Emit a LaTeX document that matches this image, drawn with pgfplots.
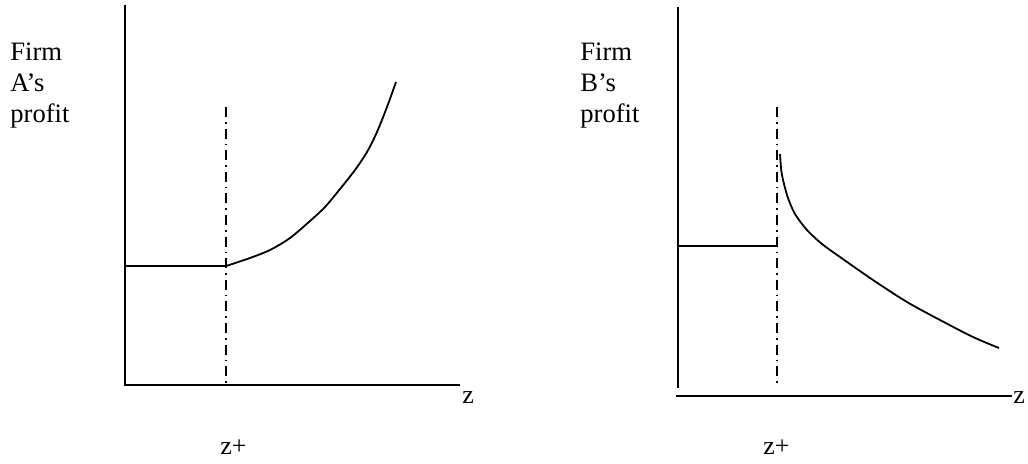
\documentclass[border=0pt]{standalone}
\usepackage{pgfplots}
\pgfplotsset{compat=1.18}
\usepackage{fontspec}
\setmainfont{Liberation Serif}
\begin{document}
\begin{tikzpicture}
\pgfplotsset{
  panel/.style={
    scale only axis, width=257pt, height=231.5pt,
    ymin=0, ymax=463, hide axis, clip=false,
    anchor=south west,
  },
}
\tikzset{
  ax/.style={black, line width=1pt},
  crv/.style={black, line width=0.9pt},
  dd/.style={black, line width=0.75pt, dash pattern=on 5pt off 2.5pt on 0.8pt off 2.5pt},
  lab/.style={font=\fontsize{13.3}{15}\selectfont, anchor=base west, inner sep=0pt},
  zlab/.style={font=\fontsize{13}{15}\selectfont, anchor=base west, inner sep=0pt},
}
% ---------- Firm A ----------
\begin{axis}[panel, at={(0pt,0pt)}, xmin=0, xmax=514]
\path (axis cs:0,0) rectangle (axis cs:514,463);
\addplot[ax, no marks] coordinates {(124.5,458) (124.5,78)};
\addplot[ax, no marks] coordinates {(124,78) (460,78)};
\addplot[dd, no marks] coordinates {(226,356) (226,78)};
\addplot[crv, no marks] coordinates {(124,197) (226,197)};
\addplot[crv, no marks, smooth, tension=0.5] coordinates {
 (226,197) (250,205) (270,213) (290,225) (310,242) (325,256)
 (340,274) (355,293) (367,311) (377,331) (387,356) (396,381)};
\node[lab] at (axis cs:10,403) {Firm};
\node[lab] at (axis cs:10,372) {A’s};
\node[lab] at (axis cs:10,341) {profit};
\node[zlab] at (axis cs:462,60) {z};
\node[zlab] at (axis cs:220,9) {z+};
\end{axis}
% ---------- Firm B ----------
\begin{axis}[panel, at={(257pt,0pt)}, xmin=514, xmax=1028]
\path (axis cs:514,0) rectangle (axis cs:1028,463);
\addplot[ax, no marks] coordinates {(678,456) (678,75)};
\addplot[ax, no marks] coordinates {(676,67) (1012,67)};
\addplot[dd, no marks] coordinates {(777,356) (777,77)};
\addplot[crv, no marks] coordinates {(678,217) (777,217) (777,223)};
\addplot[crv, no marks, smooth, tension=0.5] coordinates {
 (780,309) (781,295) (782,288) (784,279) (788,265) (795,249) (807,233)
 (822,219) (840,206) (873,183) (907,161) (940,143) (973,126) (999,115)};
\node[lab] at (axis cs:580,403) {Firm};
\node[lab] at (axis cs:580,372) {B’s};
\node[lab] at (axis cs:580,341) {profit};
\node[zlab] at (axis cs:1013,60) {z};
\node[zlab] at (axis cs:763,9) {z+};
\end{axis}
\end{tikzpicture}
\end{document}
